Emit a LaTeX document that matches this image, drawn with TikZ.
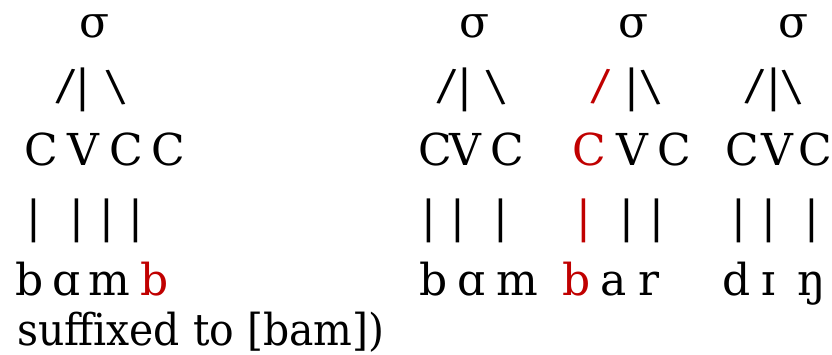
\documentclass[tikz,border=0pt]{standalone}
\usepackage{fontspec}
\setmainfont{DejaVu Serif}
\definecolor{accent}{RGB}{192,0,0}
\begin{document}
\begin{tikzpicture}[x=1pt,y=-1pt,
  glyph/.style={anchor=base,inner sep=0pt,font=\fontsize{44}{52}\selectfont},
  hl/.style={glyph,text=accent},
  leanL/.style={rotate=-8},
  leanR/.style={rotate=8}]
\useasboundingbox (0,0) rectangle (832,354);
% --- syllable 1: bamb ---
\node[glyph] (aS) at (94.5,37) {σ};
\node[glyph,leanL] (aL) at (64,101) {/};
\node[glyph] (aM) at (83.3,101) {|};
\node[glyph,leanR] (aR) at (118,101) {\textbackslash};
\node[glyph] (aC1) at (41,165) {C};
\node[glyph] (aV) at (83,165) {V};
\node[glyph] (aC2) at (126,165) {C};
\node[glyph] (aC3) at (168,165) {C};
\node[glyph] (aB1) at (34,232) {|};
\node[glyph] (aB2) at (77,232) {|};
\node[glyph] (aB3) at (107,232) {|};
\node[glyph] (aB4) at (136,232) {|};
\node[glyph] (aP1) at (30,295) {b};
\node[glyph] (aP2) at (67,295) {ɑ};
\node[glyph] (aP3) at (109,295) {m};
\node[hl] (aP4) at (155,295) {b};
\node[glyph,anchor=base west] (note) at (17,345) {\scalebox{0.93}[1]{suffixed to [bam])}};
% --- syllable 2: bam ---
\node[glyph] (bS) at (475,37) {σ};
\node[glyph,leanL] (bL) at (444.5,101) {/};
\node[glyph] (bM) at (465,101) {|};
\node[glyph,leanR] (bR) at (498,101) {\textbackslash};
\node[glyph] (bC1) at (435,165) {C};
\node[glyph] (bV) at (465,165) {V};
\node[glyph] (bC2) at (507,165) {C};
\node[glyph] (bB1) at (429,232) {|};
\node[glyph] (bB2) at (458,232) {|};
\node[glyph] (bB3) at (501,232) {|};
\node[glyph] (bP1) at (434,295) {b};
\node[glyph] (bP2) at (472,295) {ɑ};
\node[glyph] (bP3) at (517,295) {m};
% --- syllable 3: bar ---
\node[glyph] (cS) at (634,37) {σ};
\node[hl,leanL] (cL) at (599,101) {/};
\node[glyph] (cM) at (632,101) {|};
\node[glyph,leanR] (cR) at (652.5,101) {\textbackslash};
\node[hl] (cC1) at (589,165) {C};
\node[glyph] (cV) at (632,165) {V};
\node[glyph] (cC2) at (674,165) {C};
\node[hl] (cB1) at (584,232) {|};
\node[glyph] (cB2) at (627,232) {|};
\node[glyph] (cB3) at (657,232) {|};
\node[hl] (cP1) at (577,295) {b};
\node[glyph] (cP2) at (614,295) {a};
\node[glyph] (cP3) at (649,295) {r};
% --- syllable 4: dɪŋ ---
\node[glyph] (dS) at (794,37) {σ};
\node[glyph,leanL] (dL) at (752.5,101) {/};
\node[glyph] (dM) at (774,101) {|};
\node[glyph,leanR] (dR) at (794,101) {\textbackslash};
\node[glyph] (dC1) at (742,165) {C};
\node[glyph] (dV) at (777,165) {V};
\node[glyph] (dC2) at (815,165) {C};
\node[glyph] (dB1) at (739,232) {|};
\node[glyph] (dB2) at (769,232) {|};
\node[glyph] (dB3) at (812,232) {|};
\node[glyph] (dP1) at (737,295) {d};
\node[glyph] (dP2) at (769,295) {ɪ};
\node[glyph] (dP3) at (812,295) {ŋ};
\end{tikzpicture}
\end{document}
